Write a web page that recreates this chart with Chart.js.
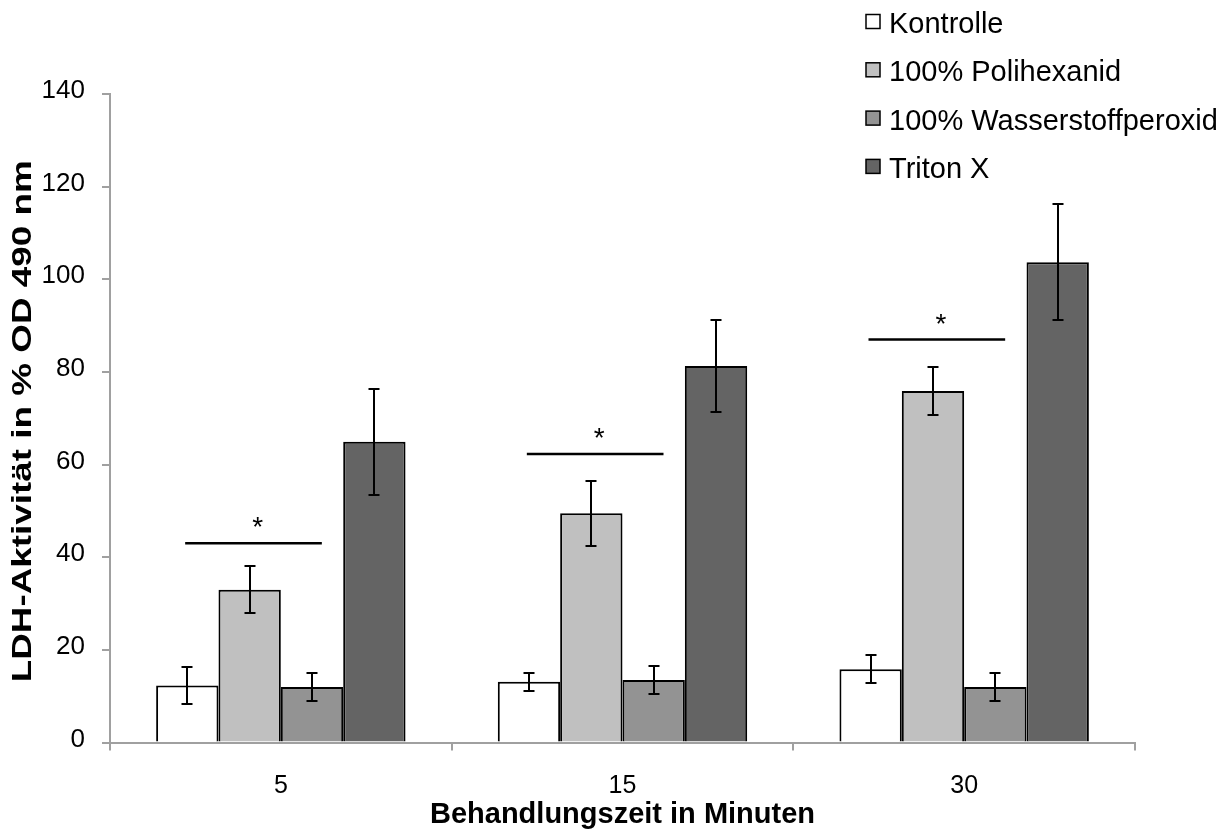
<!DOCTYPE html>
<html>
<head>
<meta charset="utf-8">
<script src="https://cdn.jsdelivr.net/npm/chart.js@4.4.1/dist/chart.umd.min.js"></script>
<style>
  html, body { margin: 0; padding: 0; background: #fff; }
</style>
</head>
<body>
<canvas id="ldh" width="1231" height="832"></canvas>
<script>
// Behandlungszeiten (Kategorien)
const zeiten = ['5', '15', '30'];

// Mittelwerte je Gruppe
const kontrolle = [12.3, 13.1, 15.8];
const polihexanid = [33.0, 49.5, 75.9];
const wasserstoff = [12.0, 13.5, 12.0];
const triton = [64.9, 81.3, 103.7];

// Standardabweichungen (Fehlerbalken)
const errKontrolle = [4.0, 2.0, 3.0];
const errPolihexanid = [5.0, 7.0, 5.1];
const errWasserstoff = [3.0, 3.0, 3.0];
const errTriton = [11.5, 9.9, 12.5];

// Signifikanzlinien (*), Höhe je Zeitpunkt
const sigHoehe = [43.0, 62.3, 87.0];

const yTicks = [0, 20, 40, 60, 80, 100, 120, 140];
const yTitel = 'LDH-Aktivität in % OD 490 nm';

const FONT = "'Liberation Sans', Arial, sans-serif";
Chart.defaults.font.family = FONT;
Chart.defaults.color = '#000';

const fehler = [errKontrolle, errPolihexanid, errWasserstoff, errTriton];

// error bars, significance marks, y title and the legend (drawn over the plot like in the original)
const extras = {
  id: 'extras',
  afterDatasetsDraw(chart) {
    const { ctx, scales: { x, y } } = chart;
    ctx.save();
    ctx.strokeStyle = '#000';
    ctx.lineWidth = 2;
    chart.data.datasets.forEach((ds, di) => {
      const meta = chart.getDatasetMeta(di);
      meta.data.forEach((bar, i) => {
        const e = fehler[di][i];
        const top = Math.round(y.getPixelForValue(ds.data[i] + e));
        const bot = Math.round(y.getPixelForValue(ds.data[i] - e));
        const cx = Math.round(bar.x);
        ctx.beginPath();
        ctx.moveTo(cx, top); ctx.lineTo(cx, bot);
        ctx.moveTo(cx - 5.5, top); ctx.lineTo(cx + 5.5, top);
        ctx.moveTo(cx - 5.5, bot); ctx.lineTo(cx + 5.5, bot);
        ctx.stroke();
      });
    });

    const step = x.width / zeiten.length;
    ctx.lineWidth = 2.5;
    ctx.fillStyle = '#000';
    ctx.font = '28px ' + FONT;
    ctx.textAlign = 'center';
    ctx.textBaseline = 'alphabetic';
    sigHoehe.forEach((v, i) => {
      const cx = x.getPixelForValue(i);
      const py = y.getPixelForValue(v);
      ctx.beginPath();
      ctx.moveTo(cx - 0.28 * step, py);
      ctx.lineTo(cx + 0.12 * step, py);
      ctx.stroke();
      ctx.fillText('*', cx - 0.068 * step, py - 7);
    });
    ctx.restore();
  },
  afterDraw(chart) {
    const { ctx, scales: { y } } = chart;
    ctx.save();
    // y axis title, stretched along its length as in the original
    ctx.font = 'bold 27px ' + FONT;
    ctx.fillStyle = '#000';
    ctx.textAlign = 'center';
    ctx.textBaseline = 'middle';
    const w = ctx.measureText(yTitel).width;
    ctx.translate(24, (y.top + y.bottom) / 2 + 3);
    ctx.rotate(-Math.PI / 2);
    ctx.scale(522 / w, 1);
    ctx.fillText(yTitel, 0, 0);
    ctx.restore();

    ctx.save();
    ctx.font = '29px ' + FONT;
    ctx.textAlign = 'left';
    ctx.textBaseline = 'middle';
    chart.data.datasets.forEach((ds, i) => {
      const yc = 24 + i * 48.3;
      ctx.fillStyle = ds.backgroundColor;
      ctx.fillRect(866, yc - 9.5, 14, 14);
      ctx.strokeStyle = '#000';
      ctx.lineWidth = 1.5;
      ctx.strokeRect(866, yc - 9.5, 14, 14);
      ctx.fillStyle = '#000';
      ctx.fillText(ds.label, 889, yc + 1);
    });
    ctx.restore();
  }
};

const farben = ['#ffffff', '#c0c0c0', '#939393', '#646464'];
const werte = [kontrolle, polihexanid, wasserstoff, triton];
const gruppen = ['Kontrolle', '100% Polihexanid', '100% Wasserstoffperoxid', 'Triton X'];

new Chart(document.getElementById('ldh'), {
  type: 'bar',
  data: {
    labels: zeiten,
    datasets: gruppen.map((g, i) => ({
      label: g,
      data: werte[i],
      backgroundColor: farben[i],
      borderColor: '#000',
      borderWidth: 2,
      inflateAmount: 0,
      categoryPercentage: 0.73,
      barPercentage: 1.0
    }))
  },
  options: {
    responsive: false,
    animation: false,
    layout: { padding: { top: 94, right: 96, left: 0, bottom: 0 } },
    plugins: {
      legend: { display: false },
      tooltip: { enabled: false }
    },
    scales: {
      x: {
        grid: { drawOnChartArea: false, color: '#a0a0a0', lineWidth: 2, tickLength: 8 },
        border: { color: '#a0a0a0', width: 2 },
        ticks: { font: { size: 25 }, padding: 21, color: '#000' },
        title: {
          display: true,
          text: 'Behandlungszeit in Minuten',
          font: { size: 29, weight: 'bold' },
          padding: { top: 0, bottom: 0 }
        },
        afterFit(s) { s.height = 89.5; }
      },
      y: {
        min: 0,
        max: 140,
        afterBuildTicks(s) { s.ticks = yTicks.map(v => ({ value: v })); },
        grid: { drawOnChartArea: false, color: '#a0a0a0', lineWidth: 2, tickLength: 8 },
        border: { color: '#a0a0a0', width: 2 },
        ticks: { font: { size: 26 }, padding: 17, color: '#000', labelOffset: -3 },
        title: { display: false },
        afterFit(s) { s.width = 110; }
      }
    }
  },
  plugins: [extras]
});
</script>
</body>
</html>
